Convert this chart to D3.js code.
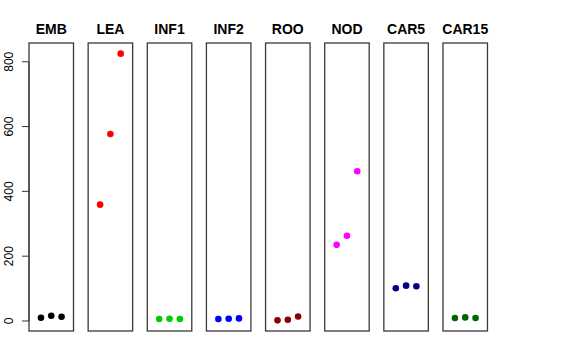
<!DOCTYPE html>
<html><head><meta charset="utf-8">
<script src="https://cdn.jsdelivr.net/npm/d3@7"></script>
<style>body{margin:0;background:#fff}svg{display:block}</style>
</head><body>
<svg id="c" width="576" height="360"></svg>
<script>
const categories = ["EMB","LEA","INF1","INF2","ROO","NOD","CAR5","CAR15"];
const colors = ["#000000","#FF0000","#00CD00","#0000FF","#8B0000","#FF00FF","#00008B","#006400"];
const EMB = [10, 16, 13];
const LEA = [359, 577, 825];
const INF1 = [6, 7, 6];
const INF2 = [6, 7, 8];
const ROO = [2, 4, 14];
const NOD = [235, 263, 462];
const CAR5 = [101, 109, 107];
const CAR15 = [9, 11, 9];
const seriesValues = [EMB, LEA, INF1, INF2, ROO, NOD, CAR5, CAR15];
const yTicks = [0, 200, 400, 600, 800];

const svg = d3.select("#c");
const plotTop = 43, plotBottom = 331, panelW = 44.5, firstX = 29, step = 59.14;

const all = seriesValues.flat();
const [mn, mx] = d3.extent(all);
const pad = (mx - mn) * 0.04;
const y = d3.scaleLinear().domain([mn - pad, mx + pad]).range([plotBottom, plotTop]);
const panelX = d3.scaleLinear().domain([0, 1]).range([firstX, firstX + step]);

categories.forEach((cat, i) => {
  const x0 = panelX(i);
  const x = d3.scaleLinear().domain([-0.16, 4.16]).range([x0, x0 + panelW]);
  const g = svg.append("g");
  seriesValues[i].forEach((v, j) => {
    g.append("circle").attr("cx", x(j + 1)).attr("cy", y(v)).attr("r", 3.3)
      .attr("fill", colors[i]);
  });
  g.append("rect").attr("x", x0).attr("y", plotTop).attr("width", panelW).attr("height", plotBottom - plotTop)
    .attr("fill", "none").attr("stroke", "#3a3a3a").attr("stroke-width", 1.3);
  svg.append("text").attr("x", x0 + panelW / 2).attr("y", 34).attr("text-anchor", "middle")
    .attr("font-family", "Liberation Sans, Arial, sans-serif").attr("font-weight", "bold")
    .attr("font-size", 14).text(cat);
});

const ax = svg.append("g");
yTicks.forEach(t => {
  ax.append("line").attr("x1", firstX - 7).attr("x2", firstX).attr("y1", y(t)).attr("y2", y(t))
    .attr("stroke", "#333").attr("stroke-width", 1);
  ax.append("text").attr("transform", `translate(13,${y(t)}) rotate(-90)`)
    .attr("text-anchor", "middle").attr("font-family", "Liberation Sans, Arial, sans-serif")
    .attr("font-size", 12).text(t);
});
ax.append("line").attr("x1", firstX).attr("x2", firstX).attr("y1", y(0)).attr("y2", y(800))
  .attr("stroke", "#333");
</script>
</body></html>
